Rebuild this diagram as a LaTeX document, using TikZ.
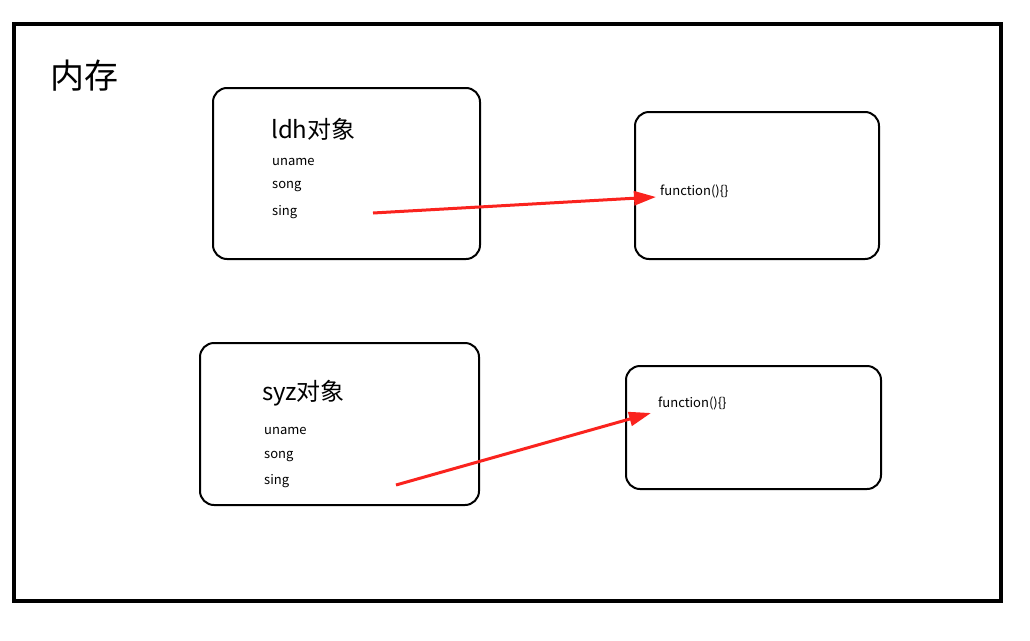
\documentclass[tikz,border=0pt]{standalone}
\usepackage{fontspec}
\setmainfont{Noto Sans CJK SC}
\usetikzlibrary{arrows.meta}
\definecolor{arrred}{RGB}{250,35,30}
\begin{document}
\begin{tikzpicture}[x=1pt,y=-1pt,
  box/.style={draw,line width=2pt,rounded corners=14pt},
  small/.style={anchor=west,font=\fontsize{13}{13}\selectfont,inner sep=0pt},
  title/.style={anchor=west,font=\fontsize{24}{24}\selectfont,inner sep=0pt},
  redarrow/.style={draw=arrred,line width=3pt,-{Triangle[length=22pt,width=14pt]}}]
\useasboundingbox (0,0) rectangle (1030,640);
\draw[line width=4pt] (14,24) rectangle (1001,601);
\node[anchor=west,font=\fontsize{34}{34}\selectfont,inner sep=0pt] (mem) at (50,76) {内存};
\draw[box] (213,88) rectangle (480,259);
\draw[box] (635,112) rectangle (879,259);
\draw[box] (200,343) rectangle (479,505);
\draw[box] (626,366) rectangle (881,489);
\node[title] (t1) at (271,129) {ldh对象};
\node[small] (u1) at (272,162) {uname};
\node[small] (s1) at (272,187) {song};
\node[small] (g1) at (272,212) {sing};
\node[small] (f1) at (660,191) {function()\{\}};
\node[title] (t2) at (262,393) {syz对象};
\node[small] (u2) at (264,431) {uname};
\node[small] (s2) at (264,456) {song};
\node[small] (g2) at (264,481) {sing};
\node[small] (f2) at (658,403) {function()\{\}};
\coordinate (a1) at (373,213);
\coordinate (b1) at (656,197);
\coordinate (a2) at (396,485);
\coordinate (b2) at (651,413);
\draw[redarrow] (a1) -- (b1);
\draw[redarrow] (a2) -- (b2);
\end{tikzpicture}
\end{document}
